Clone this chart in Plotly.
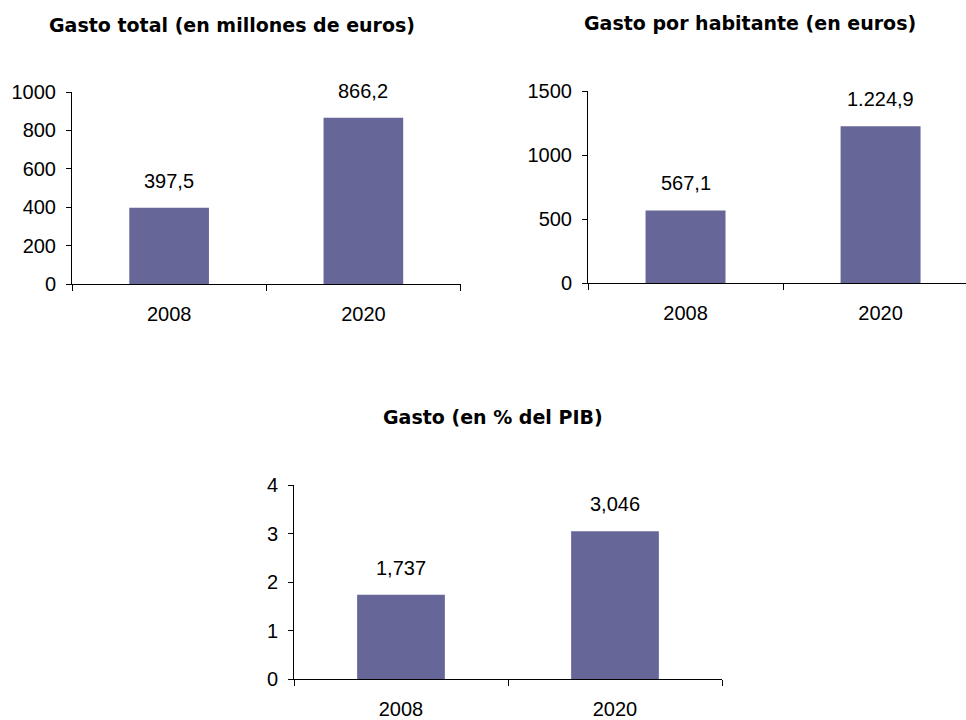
import plotly.graph_objects as go

years = ["2008", "2020"]
gasto_total = [397.5, 866.2]
gasto_habitante = [567.1, 1224.9]
gasto_pib = [1.737, 3.046]

titles = ["Gasto total (en millones de euros)",
          "Gasto por habitante (en euros)",
          "Gasto (en % del PIB)"]

W, H = 966, 720
BAR = "#666699"
FONT = "Liberation Sans, Arial, sans-serif"
TFONT = "DejaVu Sans, Liberation Sans, Arial, sans-serif"


def fmt_es(v, d):
    s = f"{v:,.{d}f}"
    return s.replace(",", "X").replace(".", ",").replace("X", ".")


def px_x(p):
    return p / W


def px_y(p):
    return 1 - p / H


panels = [
    dict(vals=gasto_total, dec=1, title=titles[0],
         xdom=[px_x(72), px_x(460.5)], ydom=[px_y(284), px_y(92)],
         xrange=[-0.5, 1.5], yrange=[0, 1000], dtick=200,
         tx=232, ty=25),
    dict(vals=gasto_habitante, dec=1, title=titles[1],
         xdom=[px_x(588), 1.0], ydom=[px_y(283), px_y(91)],
         xrange=[-0.5, 1.438], yrange=[0, 1500], dtick=500,
         tx=750, ty=23),
    dict(vals=gasto_pib, dec=3, title=titles[2],
         xdom=[px_x(294), px_x(722)], ydom=[px_y(679), px_y(485)],
         xrange=[-0.5, 1.5], yrange=[0, 4], dtick=1,
         tx=493, ty=417),
]

fig = go.Figure()
annotations = []
layout_axes = {}

for i, p in enumerate(panels, start=1):
    xa = "x" if i == 1 else f"x{i}"
    ya = "y" if i == 1 else f"y{i}"
    fig.add_trace(go.Bar(x=years, y=p["vals"], xaxis=xa, yaxis=ya,
                         marker=dict(color=BAR, line=dict(width=0)),
                         width=0.41, showlegend=False, hoverinfo="skip"))
    xkey = "xaxis" if i == 1 else f"xaxis{i}"
    ykey = "yaxis" if i == 1 else f"yaxis{i}"
    layout_axes[xkey] = dict(
        domain=p["xdom"], anchor=ya, range=p["xrange"], type="category",
        showline=True, linecolor="black", linewidth=1,
        ticks="outside", tickson="boundaries", ticklen=6, tickcolor="black",
        showgrid=False, zeroline=False, fixedrange=True, automargin=False,
        tickfont=dict(family=FONT, size=20, color="black"),
        ticklabelstandoff=12,
    )
    layout_axes[ykey] = dict(
        domain=p["ydom"], anchor=xa, range=p["yrange"], dtick=p["dtick"],
        showline=True, linecolor="black", linewidth=1,
        ticks="outside", ticklen=5, tickcolor="black",
        showgrid=False, zeroline=False, fixedrange=True, automargin=False,
        tickfont=dict(family=FONT, size=20, color="black"),
        ticklabelstandoff=6,
    )
    annotations.append(dict(
        text=f"<b>{p['title']}</b>", xref="paper", yref="paper",
        x=px_x(p["tx"]), y=px_y(p["ty"]), xanchor="center", yanchor="middle",
        showarrow=False, font=dict(family=TFONT, size=19, color="black")))
    for idx, v in enumerate(p["vals"]):
        annotations.append(dict(
            text=fmt_es(v, p["dec"]), xref=xa, yref=ya, x=idx, y=v,
            xanchor="center", yanchor="middle", yshift=27, showarrow=False,
            font=dict(family=FONT, size=20, color="black")))

fig.update_layout(
    width=W, height=H,
    margin=dict(l=0, r=0, t=0, b=0, pad=0, autoexpand=False),
    paper_bgcolor="white", plot_bgcolor="white",
    annotations=annotations,
    bargap=0.59,
    **layout_axes,
)

fig.write_html("out.html", config={"displayModeBar": False},
               post_script="document.body.style.margin='0';document.body.style.overflow='hidden';")
